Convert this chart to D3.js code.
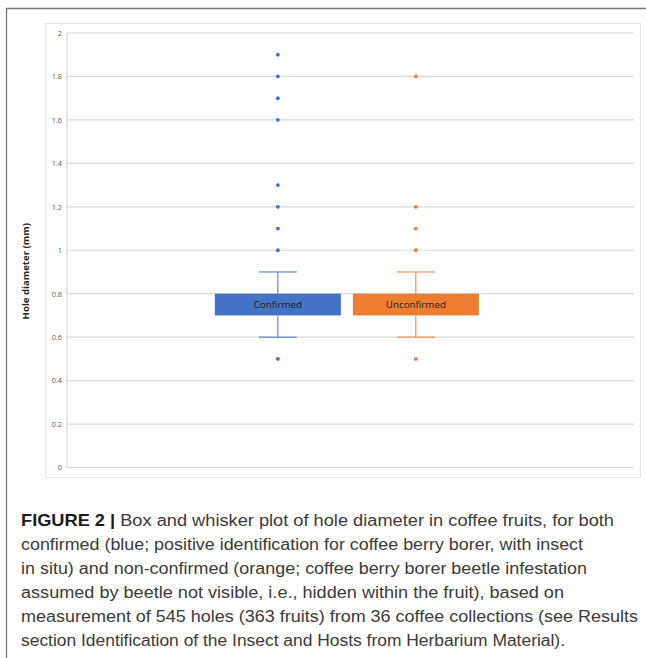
<!DOCTYPE html>
<html>
<head>
<meta charset="utf-8">
<script src="https://cdn.jsdelivr.net/npm/d3@7"></script>
<style>
  body { margin: 0; background: #fff; }
  svg { display: block; }
</style>
</head>
<body>
<svg id="chart" width="646" height="658"></svg>
<script>
// data
const series = ['Confirmed', 'Unconfirmed'];
const colors = ['#4472c4', '#ed7d31'];
const whiskerLow = [0.6, 0.6];
const q1 = [0.7, 0.7];
const q3 = [0.8, 0.8];
const whiskerHigh = [0.9, 0.9];
const outliers = [
    [0.5, 1.0, 1.1, 1.2, 1.3, 1.6, 1.7, 1.8, 1.9],
    [0.5, 1.0, 1.1, 1.2, 1.8]
];
const yTicks = [0, 0.2, 0.4, 0.6, 0.8, 1, 1.2, 1.4, 1.6, 1.8, 2];
const yTitle = 'Hole diameter (mm)';

const captionLines = [
    ['FIGURE 2 | ', 'Box and whisker plot of hole diameter in coffee fruits, for both'],
    ['', 'confirmed (blue; positive identification for coffee berry borer, with insect'],
    ['', 'in situ) and non-confirmed (orange; coffee berry borer beetle infestation'],
    ['', 'assumed by beetle not visible, i.e., hidden within the fruit), based on'],
    ['', 'measurement of 545 holes (363 fruits) from 36 coffee collections (see Results'],
    ['', 'section Identification of the Insect and Hosts from Herbarium Material).']
];
const captionEnds = [614, 583, 587, 564, 638, 565];

const svg = d3.select('#chart');

// outer figure frame
svg.append('path')
    .attr('d', 'M6.5,658 V8.5 H646')
    .attr('fill', 'none')
    .attr('stroke', '#7a7a7a')
    .attr('stroke-width', 1.3);

// chart area border
svg.append('rect')
    .attr('x', 45.5).attr('y', 23.5)
    .attr('width', 595).attr('height', 454)
    .attr('fill', '#fff')
    .attr('stroke', '#e6e6e6');

const plot = { left: 67, right: 634, top: 33, bottom: 467.5 };

const y = d3.scaleLinear()
    .domain([0, 2])
    .range([plot.bottom, plot.top]);

const xOuter = d3.scaleBand()
    .domain(['all'])
    .range([plot.left, plot.right])
    .paddingInner(0)
    .paddingOuter(0.574)
    .align(0.488);

const xInner = d3.scaleBand()
    .domain(series)
    .range([0, xOuter.bandwidth()])
    .paddingInner(0.087);

// gridlines
svg.append('g')
    .selectAll('line')
    .data(yTicks)
    .join('line')
    .attr('x1', plot.left).attr('x2', plot.right)
    .attr('y1', d => y(d)).attr('y2', d => y(d))
    .attr('stroke', '#d9d9d9')
    .attr('stroke-width', 1.2);

// y axis line
svg.append('line')
    .attr('x1', plot.left).attr('x2', plot.left)
    .attr('y1', plot.top).attr('y2', plot.bottom)
    .attr('stroke', '#d9d9d9')
    .attr('stroke-width', 1.2);

// y tick labels
const yAxis = d3.axisLeft(y)
    .tickValues(yTicks)
    .tickFormat(d => String(d))
    .tickSize(0)
    .tickPadding(5);

svg.append('g')
    .attr('transform', `translate(${plot.left},0)`)
    .call(yAxis)
    .call(g => g.select('.domain').remove())
    .call(g => g.selectAll('text')
        .attr('font-family', 'Open Sans, sans-serif')
        .attr('font-size', 7.3)
        .attr('fill', '#595959'));

svg.append('text')
    .attr('transform', `translate(28.5,${(plot.top + plot.bottom) / 2 + 21}) rotate(-90)`)
    .attr('text-anchor', 'middle')
    .attr('font-family', 'Open Sans, sans-serif')
    .attr('font-weight', 'bold')
    .attr('font-size', 9.6)
    .attr('fill', '#262626')
    .text(yTitle);

// boxes
const cx = i => xOuter('all') + xInner(series[i]) + xInner.bandwidth() / 2;
const capW = xInner.bandwidth() * 0.3;

series.forEach((name, i) => {
    const g = svg.append('g');
    const c = cx(i);

    // whiskers
    g.append('line')
        .attr('x1', c).attr('x2', c)
        .attr('y1', y(whiskerHigh[i])).attr('y2', y(q3[i]))
        .attr('stroke', colors[i]).attr('stroke-width', 1);
    g.append('line')
        .attr('x1', c).attr('x2', c)
        .attr('y1', y(q1[i])).attr('y2', y(whiskerLow[i]))
        .attr('stroke', colors[i]).attr('stroke-width', 1);
    [whiskerHigh[i], whiskerLow[i]].forEach(v => {
        g.append('line')
            .attr('x1', c - capW / 2).attr('x2', c + capW / 2)
            .attr('y1', y(v)).attr('y2', y(v))
            .attr('stroke', colors[i]).attr('stroke-width', 1);
    });

    g.append('rect')
        .attr('x', xOuter('all') + xInner(name))
        .attr('y', y(q3[i]))
        .attr('width', xInner.bandwidth())
        .attr('height', y(q1[i]) - y(q3[i]))
        .attr('fill', colors[i]);

    g.append('text')
        .attr('x', c)
        .attr('y', (y(q1[i]) + y(q3[i])) / 2)
        .attr('dy', '0.36em')
        .attr('text-anchor', 'middle')
        .attr('font-family', 'Open Sans, sans-serif')
        .attr('font-size', 9.8)
        .attr('fill', '#1c1c1c')
        .text(name);

    g.selectAll('circle')
        .data(outliers[i])
        .join('circle')
        .attr('cx', c)
        .attr('cy', d => y(d))
        .attr('r', 1.9)
        .attr('fill', colors[i]);
});

// caption
const cap = svg.append('g')
    .attr('font-family', 'Liberation Sans, Arial, sans-serif')
    .attr('font-size', 17.3)
    .attr('fill', '#3a3a3a');

captionLines.forEach((ln, i) => {
    const t = cap.append('text')
        .attr('x', 21)
        .attr('y', 526 + i * 24)
        .attr('textLength', captionEnds[i] - 21)
        .attr('lengthAdjust', 'spacingAndGlyphs');
    if (ln[0]) t.append('tspan').attr('font-weight', 'bold').attr('fill', '#1a1a1a').text(ln[0]);
    t.append('tspan').text(ln[1]);
});
</script>
</body>
</html>
